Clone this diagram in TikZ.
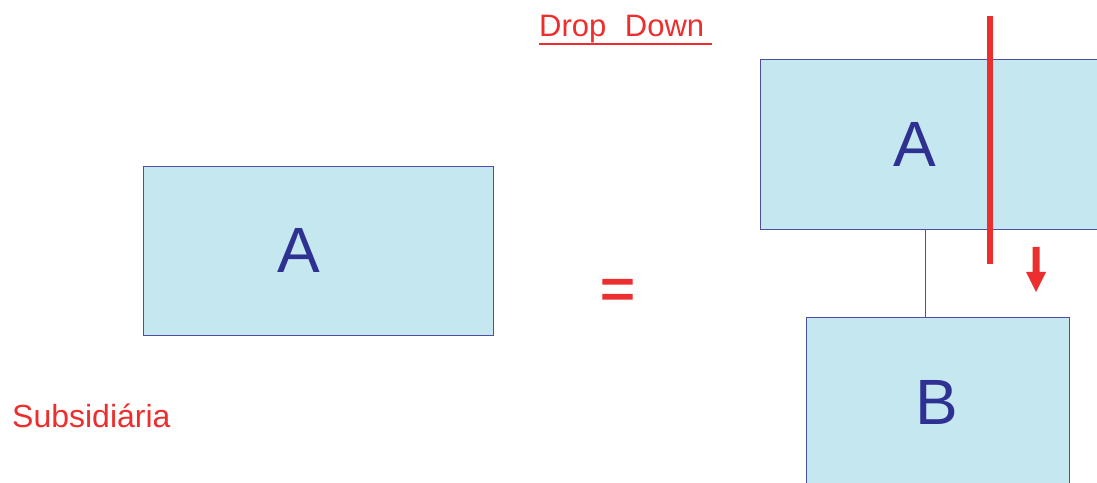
\documentclass[tikz,border=0pt]{standalone}
\usepackage{fontspec}
\setmainfont{Liberation Sans}
\newfontfamily\eqfont[FakeBold=2]{Liberation Sans}
\definecolor{boxfill}{HTML}{C5E8F0}
\definecolor{boxline}{HTML}{4E4EA8}
\definecolor{lettercol}{HTML}{2E3192}
\definecolor{redc}{HTML}{EC2E2E}
\tikzset{
  ebox/.style={draw=boxline, line width=1pt, fill=boxfill, anchor=south west, inner sep=0pt, outer sep=0pt},
  letter/.style={text=lettercol, font=\fontsize{64}{64}\selectfont, anchor=base, inner sep=0pt},
  redtext/.style={text=redc, anchor=base west, inner sep=0pt},
  conn/.style={draw=boxline, line width=1pt},
}
\begin{document}
\begin{tikzpicture}[x=1pt,y=1pt]
\useasboundingbox (0,0) rectangle (1097,482);
\clip (0,0) rectangle (1097,482);
% left box
\node[ebox, minimum width=350pt, minimum height=169pt] (boxL) at (143,146) {};
\node[letter] (letL) at (299,209) {A};
% right boxes
\node[ebox, minimum width=360pt, minimum height=170pt] (boxA) at (760,252) {};
\node[letter] (letA) at (915,315) {A};
\node[ebox, minimum width=263pt, minimum height=180pt] (boxB) at (806,-16) {};
\node[letter] (letB) at (936.5,58) {B};
\coordinate (cA) at (925,252);
\coordinate (cB) at (925,164);
\draw[conn] (cA) -- (cB);
% red cut line
\coordinate (rt) at (990,466);
\coordinate (rb) at (990,218);
\draw[redc, line width=6pt] (rt) -- (rb);
% red arrow
\coordinate (atip) at (1036,190);
\fill[redc] (1032.5,235) -- (1039.5,235) -- (1039.5,210) -- (1046,210) -- (atip) -- (1026,210) -- (1032.5,210) -- cycle;
% equals
\node[text=redc, font=\eqfont\fontsize{60}{60}\selectfont, anchor=base, inner sep=0pt] (eq) at (617.5,173) {=};
% Drop Down
\node[redtext, font=\fontsize{31}{31}\selectfont] (dd) at (539,445) {Drop\hspace{0.6em}Down};
\coordinate (ul1) at (539,438);
\coordinate (ul2) at (712,438);
\draw[redc, line width=2pt] (ul1) -- (ul2);
% Subsidiaria
\node[redtext, font=\fontsize{32}{32}\selectfont] (sub) at (12,55) {Subsidiária};
\end{tikzpicture}
\end{document}
